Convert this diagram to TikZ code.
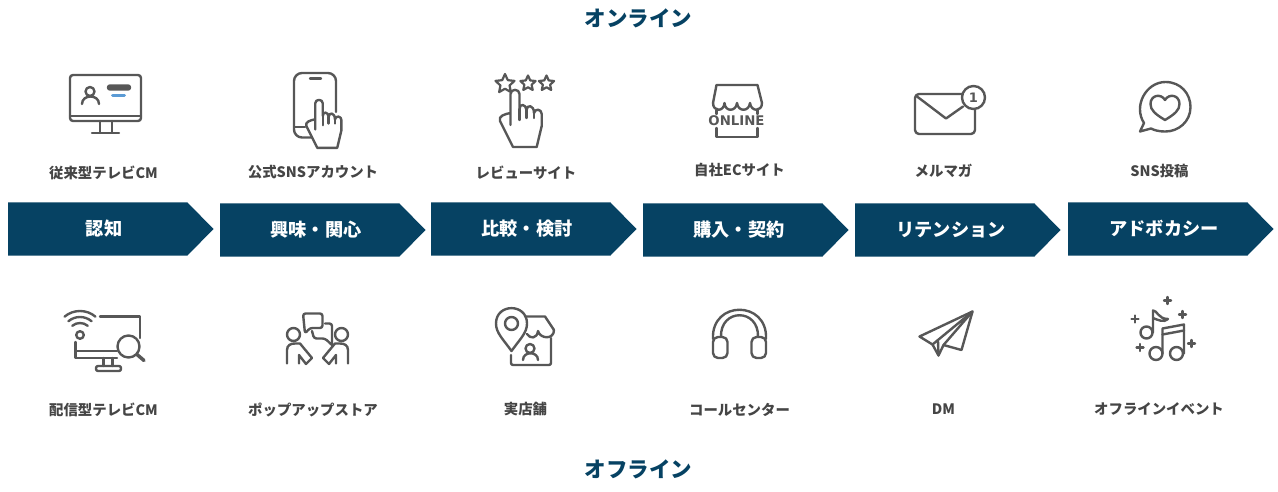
\documentclass[tikz,border=0pt]{standalone}
\usepackage{fontspec}
\setmainfont{Noto Sans CJK JP}
\newfontfamily\onlinefont{DejaVu Sans}
\usetikzlibrary{calc,
  shapes.geometric
}
\definecolor{stageblue}{HTML}{064263}
\definecolor{icongray}{HTML}{575757}
\definecolor{labelgray}{HTML}{454545}
\definecolor{barblue}{HTML}{5B9BD5}
\tikzset{
  icon/.style={draw=icongray, line width=2.4pt, line cap=round, line join=round},
  stage/.style={fill=stageblue},
  stagetext/.style={white, font=\fontsize{18.2}{20}\selectfont\bfseries},
  channel/.style={labelgray, font=\fontsize{14.4}{16}\selectfont\bfseries},
  heading/.style={stageblue, font=\fontsize{21.5}{24}\selectfont\bfseries},
  ministar/.style={star, star points=5, star point ratio=2.1, draw=icongray, line width=2.2pt,
    line join=round, inner sep=0pt, minimum size=#1},
  hand/.pic={
    \draw[icon, fill=white] (-4.5,35) -- (-4.5,23) .. controls (-10,24) and (-17,26) .. (-15,31)
      -- (-2,57) -- (21.7,57) -- (26.7,36) -- (26.7,24)
      .. controls (26.7,19) and (20,18) .. (19,23)
      .. controls (19,15) and (12,14) .. (11.5,20)
      .. controls (11,14) and (4.5,13) .. (4.5,19)
      -- (4.5,4) .. controls (4.5,-1.5) and (-4.5,-1.5) .. (-4.5,4) -- cycle;
    \draw[icon] (4.5,19) -- (4.5,30) (11.5,20) -- (11.5,28) (19,23) -- (19,28);
  }
}
\begin{document}
\begin{tikzpicture}[x=1pt,y=-1pt]
  \useasboundingbox (0,0) rectangle (1278,492);

  % headings
  \path (638.5,18) node[heading] (online) {オンライン};
  \path (638.5,469.5) node[heading] (offline) {オフライン};

  % stages
  \foreach \x/\y/\name/\txt in {8/202.5/aware/認知,220/203.5/interest/興味・関心,
    431/202.5/compare/比較・検討,643/203.5/buy/購入・契約,855/203.5/retain/リテンション,
    1068/202.5/advocate/アドボカシー} {
    \fill[stage] (\x,\y) -- (\x+179.5,\y) -- (\x+205.5,\y+26.5) -- (\x+179.5,\y+53) -- (\x,\y+53) -- cycle;
    \path (\x+96,\y+26) node[stagetext] (\name) {\txt};
  }

  % upper labels
  \path (103.5,172.5) node[channel] (tvcm) {従来型テレビCM};
  \path (313,172.5) node[channel] (sns) {公式SNSアカウント};
  \path (526,172.5) node[channel] (review) {レビューサイト};
  \path (739.5,170.5) node[channel] (ecsite) {自社ECサイト};
  \path (943.5,171) node[channel] (mailmag) {メルマガ};
  \path (1159.5,171) node[channel] (snspost) {SNS投稿};

  % lower labels
  \path (103.5,409.5) node[channel] (streamcm) {配信型テレビCM};
  \path (313,409.5) node[channel] (popup) {ポップアップストア};
  \path (525.5,409.5) node[channel] (store) {実店舗};
  \path (739.5,409.5) node[channel] (callcenter) {コールセンター};
  \path (943.5,409.5) node[channel] (dm) {DM};
  \path (1159,409.5) node[channel] (event) {オフラインイベント};

  % TV monitor
  \draw[icon, rounded corners=3] (70,75) rectangle (141,121);
  \draw[icon] (70,116) -- (141,116);
  \draw[icon] (100,121) -- (100,132) (112,121) -- (112,132) (92,133) -- (119,133);
  \draw[icon] (90,91.5) circle (4.5);
  \draw[icon] (82,104) .. controls (82,94) and (99,94) .. (99,104);
  \draw[icon, fill=icongray, rounded corners=2] (108,85.5) rectangle (130,89.5);
  \draw[barblue, line width=3pt, line cap=round] (112.5,96) -- (124.5,96);

  % phone
  \draw[icon] (305,127) -- (295,127);
  \draw[icon, rounded corners=8] (314,137.5) -- (294,137.5) -- (294,73) -- (336,73) -- (336,112);
  \draw[icon] (310,78.5) -- (321,78.5);
  \pic[scale=0.84] at (319,100) {hand};

  % review
  \path (505,84) node[ministar=20pt] (starone) {};
  \path (528,83.5) node[ministar=16pt] (startwo) {};
  \path (546.5,83.5) node[ministar=16pt] (starthree) {};
  \pic at (515,90) {hand};

  % online shop
  \draw[icon] (713,103) -- (716.5,85) -- (757.5,85) -- (762,103);
  \draw[icon] (713,103) .. controls (713,112) and (724,112) .. (724.5,103)
    .. controls (725,112) and (736,112) .. (737,103)
    .. controls (738,112) and (749,112) .. (750,103)
    .. controls (751,112) and (762,112) .. (762,103);
  \draw[icon] (716.5,110) -- (716.5,114) (757.5,110) -- (757.5,114);
  \draw[icon] (716.5,128) -- (716.5,137) -- (757.5,137) -- (757.5,128);
  \path (736.5,121) node[icongray, font=\onlinefont\fontsize{13.3}{14}\selectfont\bfseries] (shoponline) {ONLINE};

  % mail
  \draw[icon, rounded corners=4] (915,94) rectangle (975,134);
  \draw[icon] (917,96.5) -- (946,118.5) -- (963,106.5);
  \draw[icon, fill=white] (973.5,97.5) circle (11.5);
  \path (973.5,97.5) node[icongray, font=\onlinefont\fontsize{13}{14}\selectfont\bfseries] (unread) {1};

  % bubble
  \draw[icon] (1144,123) .. controls (1133,106) and (1146,82) .. (1165.5,82)
    .. controls (1181,82) and (1190.5,94) .. (1190.5,107)
    .. controls (1190.5,122) and (1178,131.5) .. (1165.5,131.5)
    .. controls (1158,131.5) and (1154,130) .. (1151,128.5) -- (1140,131.5) -- cycle;
  \draw[icon] (1165,120) .. controls (1155,114) and (1150.5,110) .. (1150.5,104)
    .. controls (1150.5,95) and (1161,93) .. (1165,100)
    .. controls (1169,93) and (1179.5,95) .. (1179.5,104)
    .. controls (1179.5,110) and (1175,114) .. (1165,120) -- cycle;

  % streaming monitor
  \draw[icon] (100,316.5) -- (140,316.5) -- (140,338);
  \draw[icon] (75.5,342) -- (75.5,358) -- (117,358) (75.5,351) -- (117,351);
  \draw[icon] (103.5,358) -- (103.5,366) (112.5,358) -- (112.5,366);
  \draw[icon, rounded corners=2] (96,366) rectangle (121,371);
  \draw[icon] (80,335) circle (3.8);
  \foreach \r in {12,18,24} {
    \draw[icon] ($(80,335)+(-130:\r)$) arc[start angle=-130, end angle=-50, radius=\r];
  }
  \draw[icon] (128.5,346.5) circle (11);
  \draw[icon, line width=3.5pt] (137,354.5) -- (144,360.5);

  % popup talk
  \draw[icon] (293.5,334.5) circle (6.5);
  \draw[icon] (341.5,334.5) circle (6.5);
  \draw[icon] (287,363.5) -- (287,350) .. controls (287,345) and (291,343.5) .. (295,343.5)
    -- (300,343.5) -- (312,358) -- (306,364) -- (299,355) -- (299,363.5);
  \draw[icon] (348,363.5) -- (348,350) .. controls (348,345) and (344,343.5) .. (340,343.5)
    -- (335,343.5) -- (323,358) -- (329,364) -- (336,355) -- (336,363.5);
  \draw[icon, rounded corners=2.5] (305,333.5) -- (303,313.5) -- (322.5,313.5) -- (322.5,328) -- (310,328) -- cycle;
  \draw[icon, rounded corners=2.5] (325,323.5) -- (332,323.5) -- (332,345);
  \draw[icon, rounded corners=2.5] (332,345) -- (325,338.5) -- (314,338.5) -- (312,331);

  % shop with pin
  \draw[icon] (511.5,351) .. controls (503,339) and (496,333) .. (496,323.5)
    .. controls (496,303) and (527,303) .. (527,323.5) .. controls (527,333) and (520,339) .. (511.5,351) -- cycle;
  \draw[icon] (511.5,323.5) circle (6.5);
  \draw[icon] (525,316.5) -- (545,316.5) -- (554,330);
  \draw[icon] (527,334) .. controls (530,339) and (537,339) .. (538,331)
    .. controls (540,339) and (554,340) .. (554,330);
  \draw[icon, rounded corners=2] (551,338) -- (551,365) -- (511,365) -- (511,355);
  \draw[icon] (530,348.5) circle (4.5);
  \draw[icon] (523,360) .. controls (523,351) and (538,351) .. (538,360);

  % headset
  \draw[icon] (713,339) .. controls (711,300) and (768,300) .. (766,339);
  \draw[icon] (721,337) .. controls (720,308) and (759,308) .. (758,337);
  \draw[icon, fill=white, rounded corners=5] (713,337) rectangle (727.5,358);
  \draw[icon, fill=white, rounded corners=5] (751.5,337) rectangle (766,358);

  % paper plane
  \draw[icon] (972.5,311.5) -- (919.5,336.5) -- (932.5,344.5) -- (938.5,355.5) -- (943.5,345) -- (961.5,350) -- cycle;
  \draw[icon] (932.5,344.5) -- (972.5,311.5) -- (943.5,345);
  \draw[icon] (938.5,355.5) -- (938,341);

  % notes
  \draw[icon] (1146.5,332.5) circle (6);
  \draw[icon] (1153,332.5) -- (1153,310.5) .. controls (1157,310) and (1158,319) .. (1168,319) .. controls (1164,323) and (1158,320) .. (1153,318);
  \draw[icon] (1156,353.5) circle (6.5);
  \draw[icon] (1176.5,353.5) circle (6.5);
  \draw[icon] (1162.5,353.5) -- (1162.5,328.5) -- (1184,324.5) -- (1184,353.5);
  \draw[icon] (1162.5,334.5) -- (1184,330.5);
  \foreach \x/\y in {1167.5/300.5,1182.5/314.5,1135/319,1140/347.5,1191.5/343.5} {
    \draw[icon] (\x-3.5,\y) -- (\x+3.5,\y) (\x,\y-3.5) -- (\x,\y+3.5);
  }
\end{tikzpicture}
\end{document}
